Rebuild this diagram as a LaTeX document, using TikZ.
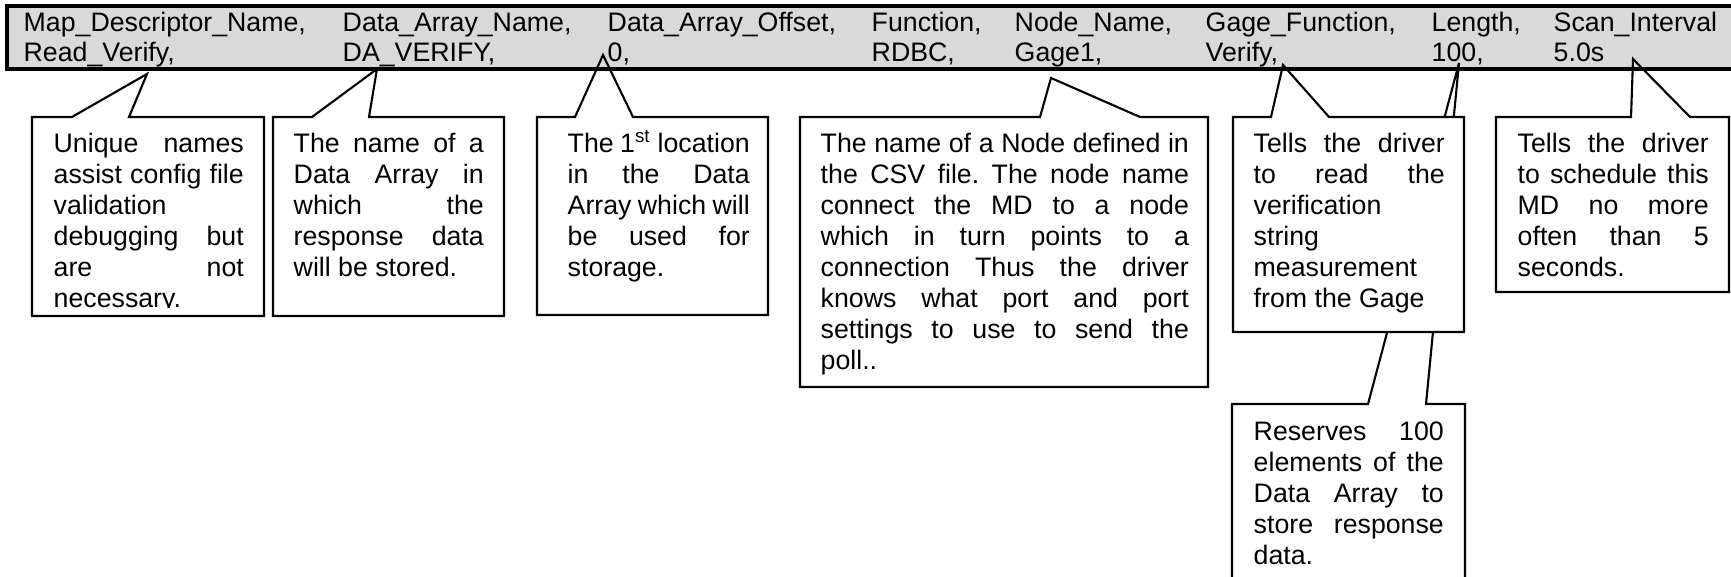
\documentclass[tikz,border=0pt]{standalone}
\usepackage{fontspec}
\setmainfont{Liberation Sans}
\definecolor{barfill}{HTML}{D9D9D9}
\newcommand{\notesize}{\fontsize{7.6}{8.82}\selectfont\frenchspacing\tolerance=10000\hyphenpenalty=10000\relax}
\tikzset{
  callout/.style={draw=black,line width=0.6pt},
  note/.style={anchor=north west,align=justify,inner sep=0pt},
}

\begin{document}
\begin{tikzpicture}[x=0.01cm,y=-0.01cm,every node/.style={font=\notesize,inner sep=0pt}]
  \useasboundingbox (0,0) rectangle (1731,577);
  \clip (0,0) rectangle (1731,577);
  % the record bar
  \draw[fill=barfill,line width=0.9pt] (7,6) rectangle (1750,69);
  \foreach \x/\hd/\vl [count=\i] in {
      23/{Map\_Descriptor\_Name,}/{Read\_Verify,},
      342/{Data\_Array\_Name,}/{DA\_VERIFY,},
      607/{Data\_Array\_Offset,}/{0,},
      871/{Function,}/{RDBC,},
      1014/{Node\_Name,}/{Gage1,},
      1205/{Gage\_Function,}/{Verify,},
      1431/{Length,}/{100,},
      1553/{Scan\_Interval}/{5.0s}}
  {
    \node[anchor=base west] (hdr\i) at (\x,32) {\hd};
    \node[anchor=base west] (val\i) at (\x,62) {\vl};
  }
  % callouts, the Length one goes behind the Gage_Function box
  \draw[callout] (1232,600) |- (1368,404) -- (1459,63) -- (1426,404) -| (1465,600);
  \fill[white] (1233,117) rectangle (1464,332);
  \draw[callout] (1233,332) |- (1271,117) -- (1283,65) -- (1329,117) -| (1464,332) -- cycle;
  \draw[callout] (32,316) |- (72,117) -- (147,74) -- (129,117) -| (264,316) -- cycle;
  \draw[callout] (273,316) |- (312,117) -- (377,69) -- (369,117) -| (504,316) -- cycle;
  \draw[callout] (537,315) |- (575,117) -- (603,55) -- (633,117) -| (768,315) -- cycle;
  \draw[callout] (800,387) |- (1040,117) -- (1051,78) -- (1140,117) -| (1208,387) -- cycle;
  \draw[callout] (1496,292) |- (1631,117) -- (1633,59) -- (1690,117) -| (1729,292) -- cycle;
  % texts
  \begin{scope}
    \clip (32,117) rectangle (264,308);
    \node[note,text width=1.9cm] (uniq) at (53,130) {\strut Unique names\linebreak assist config file\linebreak validation\linebreak debugging but\linebreak are not\linebreak necessary.};
  \end{scope}
  \node[note,text width=1.9cm] (daname) at (293,130) {\strut The name of a\linebreak Data Array in\linebreak which the\linebreak response data\linebreak will be stored.};
  \node[note,text width=1.82cm] (offset) at (567,130) {\strut The 1\textsuperscript{st} location\linebreak in the Data\linebreak Array which will\linebreak be used for\linebreak storage.};
  \node[note,text width=3.68cm] (nodename) at (820,130) {\strut The name of a Node defined in\linebreak the CSV file. The node name\linebreak connect the MD to a node\linebreak which in turn points to a\linebreak connection Thus the driver\linebreak knows what port and port\linebreak settings to use to send the\linebreak poll..};
  \node[note,text width=1.91cm] (gagefn) at (1253,130) {\strut Tells the driver\linebreak to read the\linebreak verification\linebreak string\linebreak measurement\linebreak from the Gage};
  \node[note,text width=1.9cm] (length) at (1253,418) {\strut Reserves 100\linebreak elements of the\linebreak Data Array to\linebreak store response\linebreak data.};
  \node[note,text width=1.91cm] (scan) at (1517,130) {\strut Tells the driver\linebreak to schedule this\linebreak MD no more\linebreak often than 5\linebreak seconds.};
\end{tikzpicture}
\end{document}
